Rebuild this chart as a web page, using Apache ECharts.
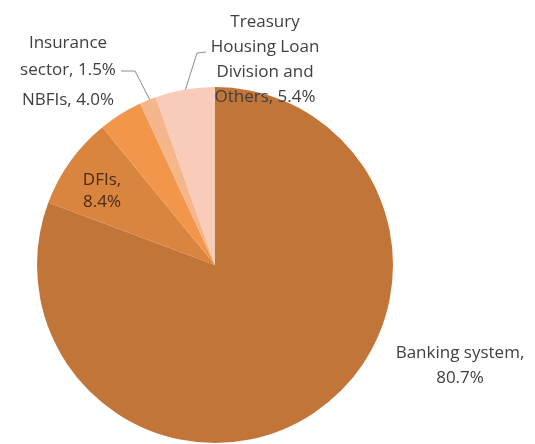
<!DOCTYPE html>
<html><head><meta charset="utf-8">
<script src="https://cdn.jsdelivr.net/npm/echarts@6/dist/echarts.min.js"></script>
<style>html,body{margin:0;padding:0;background:#fff}#c{width:535px;height:444px}</style>
</head><body><div id="c"></div>
<script>
var categories = ['Banking system', 'DFIs', 'NBFIs', 'Insurance sector', 'Treasury Housing Loan Division and Others'];
var labelTexts = ['Banking system,\n80.7%', 'DFIs,\n8.4%', 'NBFIs, 4.0%', 'Insurance\nsector, 1.5%', 'Treasury\nHousing Loan\nDivision and\nOthers, 5.4%'];
var values = [80.7, 8.4, 4.0, 1.5, 5.4];
var colors = ['#C27538', '#D9843F', '#F2964B', '#F5B68C', '#F8CCB9'];

var labelPos = [
  {x: 460, y: 366, lh: 25},
  {x: 102, y: 191, lh: 22},
  {x: 68, y: 100, lh: 25},
  {x: 68, y: 57, lh: 27},
  {x: 265, y: 60, lh: 25}
];
var linePts = {
  3: [[152, 104], [135, 71], [121, 71]],
  4: [[185, 91], [197, 53], [206, 52]]
};

var chart = echarts.init(document.getElementById('c'));
chart.setOption({
  animation: false,
  series: [{
    type: 'pie',
    center: [215, 265],
    radius: 178,
    startAngle: 90,
    clockwise: true,
    label: {
      show: true,
      fontFamily: 'Open Sans',
      fontSize: 17,
      color: '#404040',
      overflow: 'none',
      align: 'center',
      formatter: function (p) { return labelTexts[p.dataIndex]; }
    },
    labelLine: {show: true, length: 5, length2: 5, lineStyle: {color: '#8c8c8c', width: 1}},
    labelLayout: function (p) {
      var o = labelPos[p.dataIndex];
      var r = {x: o.x, y: o.y, align: 'center', verticalAlign: 'middle'};
      if (linePts[p.dataIndex]) r.labelLinePoints = linePts[p.dataIndex];
      return r;
    },
    data: categories.map(function (c, i) {
      var d = {name: c, value: values[i], itemStyle: {color: colors[i]},
               label: {lineHeight: labelPos[i].lh}};
      if (i === 1) d.label.color = '#4a2c14';
      if (i !== 3 && i !== 4) d.labelLine = {show: false};
      return d;
    })
  }]
});
</script></body></html>
